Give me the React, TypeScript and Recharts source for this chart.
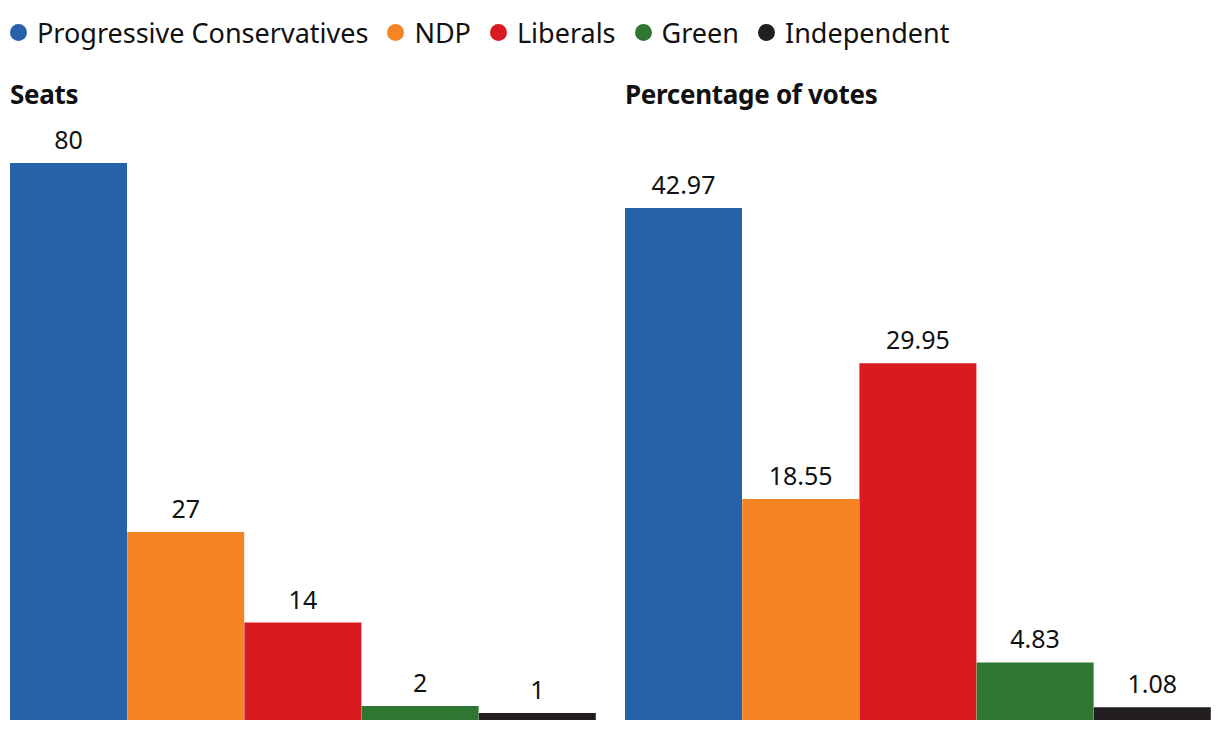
import { BarChart, Bar, XAxis, YAxis, Cell, LabelList } from 'recharts';

const parties = ['Progressive Conservatives', 'NDP', 'Liberals', 'Green', 'Independent'];
const colors = ['#2662a9', '#f58424', '#d91a21', '#2e7631', '#231f20'];
const seats = [80, 27, 14, 2, 1];
const votes = [42.97, 18.55, 29.95, 4.83, 1.08];

const FONT = '"Noto Sans", sans-serif';

const seatsData = parties.map((name, i) => ({ name, value: seats[i] }));
const votesData = parties.map((name, i) => ({ name, value: votes[i] }));

function Panel({
  data,
  max,
  left,
  title,
}: {
  data: { name: string; value: number }[];
  max: number;
  left: number;
  title: string;
}) {
  return (
    <div style={{ position: 'absolute', left, top: 0, width: 586, height: 734 }}>
      {/* Title */}
      <div
        style={{
          position: 'absolute',
          left: 0,
          top: 76,
          fontSize: 26,
          fontWeight: 700,
          color: '#111',
          letterSpacing: -0.3,
        }}
      >
        {title}
      </div>

      {/* Chart */}
      <div style={{ position: 'absolute', left: 0, top: 120 }}>
        <BarChart
          width={586}
          height={610}
          data={data}
          margin={{ top: 43, right: 0, bottom: 10, left: 0 }}
          barCategoryGap={0}
        >
          <XAxis
            dataKey="name"
            tick={false}
            tickLine={false}
            height={0}
            axisLine={{ stroke: '#333', strokeWidth: 3 }}
          />
          <YAxis hide domain={[0, max]} />
          <Bar dataKey="value" isAnimationActive={false}>
            {data.map((d, i) => (
              <Cell key={d.name} fill={colors[i]} />
            ))}
            <LabelList
              dataKey="value"
              position="top"
              offset={14}
              style={{ fontSize: 25, fill: '#111', fontFamily: FONT }}
            />
          </Bar>
        </BarChart>
      </div>
    </div>
  );
}

export default function App() {
  return (
    <div
      style={{
        position: 'absolute',
        left: 0,
        top: 0,
        width: 1220,
        height: 734,
        background: '#fff',
        fontFamily: FONT,
        overflow: 'hidden',
      }}
    >
      {/* Legend */}
      <div
        style={{
          position: 'absolute',
          left: 10,
          top: 14,
          display: 'flex',
          alignItems: 'center',
          fontSize: 27,
          color: '#111',
          whiteSpace: 'nowrap',
        }}
      >
        {parties.map((p, i) => (
          <div key={p} style={{ display: 'flex', alignItems: 'center', marginRight: 19 }}>
            <span
              style={{
                width: 17,
                height: 17,
                borderRadius: '50%',
                background: colors[i],
                display: 'inline-block',
                marginRight: 10,
              }}
            />
            <span>{p}</span>
          </div>
        ))}
      </div>

      <Panel data={seatsData} max={80} left={10} title="Seats" />
      <Panel data={votesData} max={46.75} left={625} title="Percentage of votes" />
    </div>
  );
}
